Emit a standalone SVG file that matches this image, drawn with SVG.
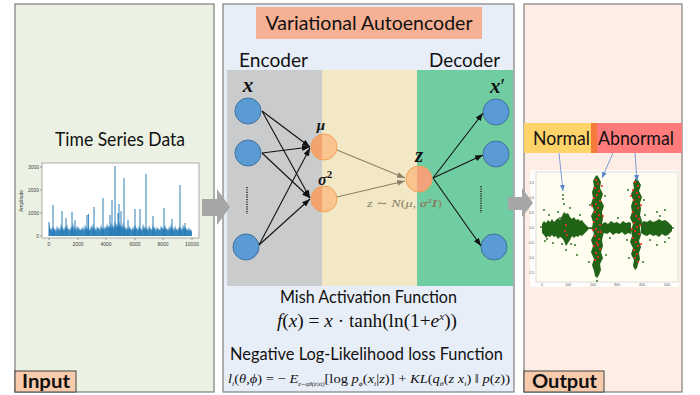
<svg xmlns="http://www.w3.org/2000/svg" width="700" height="395" viewBox="0 0 700 395">
  <style>
    .panel { stroke: #7f7f7f; stroke-width: 1.2; }
    .lbl { font-family: Lato, "Liberation Sans", sans-serif; fill: #111; }
    .tag { font-family: Lato, "Liberation Sans", sans-serif; font-weight: bold; fill: #111; }
    .tagbox { fill: #f8cbad; stroke: #404040; stroke-width: 1; }
    .math { font-family: "Liberation Serif", "DejaVu Serif", serif; fill: #111; }
    .mb { font-family: "Liberation Serif", "DejaVu Serif", serif; font-style: italic; font-weight: bold; fill: #111; }
    .inode { fill: #5b9bd5; stroke: #41719c; stroke-width: 1; }
    .onode { stroke: #f0a35a; stroke-width: 1; }
    .edge { stroke: #111; stroke-width: 1.1; fill: none; marker-end: url(#ah); }
    .edge2 { stroke: #8c8068; stroke-width: 1.1; fill: none; marker-end: url(#ah2); }
    .tick { font-family: "Liberation Sans", sans-serif; font-size: 5px; fill: #444; }
    .tick2 { font-family: "Liberation Sans", sans-serif; font-size: 3.5px; fill: #555; }
    .ptr { stroke: #5b84cc; stroke-width: 0.8; fill: none; marker-end: url(#ah3); }
    .g { fill: #216417; }
    .r { fill: #ff2a1f; }
    .big { fill: #a6a6a6; }
  </style>
  <defs>
    <marker id="ah" markerUnits="userSpaceOnUse" markerWidth="8" markerHeight="6" refX="8" refY="3" orient="auto">
      <path d="M0,0 L8,3 L0,6 z" fill="#111"/>
    </marker>
    <marker id="ah2" markerUnits="userSpaceOnUse" markerWidth="8" markerHeight="6" refX="8" refY="3" orient="auto">
      <path d="M0,0 L8,3 L0,6 z" fill="#8c8068"/>
    </marker>
    <marker id="ah3" markerUnits="userSpaceOnUse" markerWidth="6" markerHeight="5" refX="6" refY="2.5" orient="auto">
      <path d="M0,0 L6,2.5 L0,5 z" fill="#5b84cc"/>
    </marker>
    <!-- two-tone fills for latent nodes straddling the coloured bands -->
    <linearGradient id="encSplit" gradientUnits="userSpaceOnUse" x1="0" y1="0" x2="700" y2="0">
      <stop offset="0" stop-color="#f2a36e"/>
      <stop offset="0.46" stop-color="#f2a36e"/>
      <stop offset="0.46" stop-color="#f9c48e"/>
      <stop offset="1" stop-color="#f9c48e"/>
    </linearGradient>
    <linearGradient id="decSplit" gradientUnits="userSpaceOnUse" x1="0" y1="0" x2="700" y2="0">
      <stop offset="0" stop-color="#f9c48c"/>
      <stop offset="0.5957" stop-color="#f9c48c"/>
      <stop offset="0.5957" stop-color="#f3a37c"/>
      <stop offset="1" stop-color="#f3a37c"/>
    </linearGradient>
  </defs>

  <rect width="700" height="395" fill="#ffffff"/>

  <!-- Input panel -->
  <g id="input-panel">
    <rect class="panel" x="15" y="4" width="199" height="388" fill="#ebf1e3"/>
    <text class="lbl" x="120" y="146" font-size="20" text-anchor="middle" textLength="130" lengthAdjust="spacingAndGlyphs">Time Series Data</text>
    <g id="ts-plot">
      <rect x="42" y="163" width="157" height="75" fill="#ffffff" stroke="#9a9a9a" stroke-width="0.8"/>
      <path d="M40,167 H42 M40,190 H42 M40,213 H42 M40,236 H42 M49,238 V240 M78,238 V240 M106,238 V240 M135,238 V240 M163,238 V240 M192,238 V240" stroke="#666" stroke-width="0.6"/>
      <text class="tick" x="39" y="169" text-anchor="end">3000</text>
      <text class="tick" x="39" y="192" text-anchor="end">2000</text>
      <text class="tick" x="39" y="215" text-anchor="end">1000</text>
      <text class="tick" x="39" y="238" text-anchor="end">0</text>
      <text class="tick" x="49" y="246" text-anchor="middle">0</text>
      <text class="tick" x="78" y="246" text-anchor="middle">2000</text>
      <text class="tick" x="106" y="246" text-anchor="middle">4000</text>
      <text class="tick" x="135" y="246" text-anchor="middle">6000</text>
      <text class="tick" x="163" y="246" text-anchor="middle">8000</text>
      <text class="tick" x="192" y="246" text-anchor="middle">10000</text>
      <text class="tick" x="0" y="0" text-anchor="middle" transform="translate(23,201) rotate(-90)">Amplitude</text>
      <polygon fill="#1f77b4" fill-opacity="0.9" points="49,222 50,230 51,227 52,231 53,226 54,230 55,228 56,232 57,225 58,230 59,227 60,231 61,223 62,229 63,227 64,231 65,226 66,229 67,224 68,230 69,228 70,231 71,226 72,229 73,222 74,230 75,226 76,231 77,225 78,229 79,227 80,231 81,228 82,230 83,226 84,231 85,224 86,229 87,227 88,230 89,228 90,231 91,225 92,229 93,223 94,230 95,227 96,231 97,226 98,229 99,227 100,231 101,224 102,229 103,227 104,230 105,226 106,229 107,223 108,228 109,225 110,229 111,222 112,228 113,224 114,229 115,220 116,227 117,223 118,228 119,221 120,227 121,224 122,229 123,222 124,228 125,226 126,230 127,227 128,231 129,225 130,229 131,228 132,231 133,226 134,230 135,224 136,229 137,227 138,231 139,225 140,229 141,228 142,231 143,223 144,229 145,226 146,230 147,227 148,231 149,225 150,229 151,228 152,231 153,224 154,229 155,227 156,231 157,226 158,230 159,228 160,231 161,225 162,229 163,227 164,230 165,224 166,229 167,228 168,231 169,226 170,230 171,223 172,229 173,227 174,231 175,225 176,230 177,228 178,231 179,226 180,229 181,227 182,231 183,224 184,229 185,226 186,230 187,228 188,231 189,227 190,231 191,229 192,232 192,236 49,236"/>
      <path stroke="#1f77b4" stroke-width="1.1" stroke-opacity="0.85" fill="none" d="M49,236 V222 M53,236 V205 M62,236 V211 M66,236 V218 M72,236 V212 M75,236 V220 M87,236 V215 M88.5,236 V214 M94,236 V207 M103,236 V198 M110,236 V215 M112,236 V200 M115,236 V166 M118,236 V213 M119,236 V204 M121,236 V211 M124,236 V178 M128,236 V220 M135,236 V209 M140,236 V209 M146,236 V174 M153,236 V216 M164,236 V208 M172,236 V219 M180,236 V185 M185,236 V223"/>
    </g>
    <rect class="tagbox" x="15" y="371" width="61" height="21"/>
    <text class="tag" x="46" y="388" font-size="19" text-anchor="middle" textLength="48" lengthAdjust="spacingAndGlyphs">Input</text>
  </g>

  <!-- VAE panel background -->
  <g id="vae-panel">
    <rect class="panel" x="223" y="4" width="291" height="388" fill="#e8eef8"/>
    <rect x="256" y="7" width="226" height="32" fill="#f6b093"/>
    <text class="lbl" x="369" y="30" font-size="20" text-anchor="middle" textLength="207" lengthAdjust="spacingAndGlyphs">Variational Autoencoder</text>
    <text class="lbl" x="273.5" y="67" font-size="20" text-anchor="middle" textLength="69" lengthAdjust="spacingAndGlyphs">Encoder</text>
    <text class="lbl" x="464.5" y="67" font-size="20" text-anchor="middle" textLength="71" lengthAdjust="spacingAndGlyphs">Decoder</text>
    <rect x="227" y="70" width="95" height="216" fill="#c9cbcd"/>
    <rect x="322" y="70" width="95" height="216" fill="#f2e8c6"/>
    <rect x="417" y="70" width="96" height="216" fill="#70cda1"/>
    <text class="lbl" x="368.5" y="303" font-size="17" text-anchor="middle" textLength="177" lengthAdjust="spacingAndGlyphs">Mish Activation Function</text>
    <text class="math" x="277" y="327" font-size="19" textLength="180" lengthAdjust="spacingAndGlyphs"><tspan font-style="italic">f</tspan>(<tspan font-style="italic">x</tspan>) = <tspan font-style="italic">x</tspan> · tanh(ln(1+<tspan font-style="italic">e</tspan><tspan font-style="italic" font-size="11" dy="-7">x</tspan><tspan dy="7">))</tspan></text>
    <text class="lbl" x="366.5" y="360" font-size="17" text-anchor="middle" textLength="273" lengthAdjust="spacingAndGlyphs">Negative Log-Likelihood loss Function</text>
    <text class="math" x="228" y="383" font-size="13" textLength="282" lengthAdjust="spacingAndGlyphs"><tspan font-style="italic">l</tspan><tspan font-size="7" dy="3" font-style="italic">i</tspan><tspan dy="-3">(</tspan><tspan font-style="italic">θ</tspan>,<tspan font-style="italic">ϕ</tspan>)  =  − <tspan font-style="italic">E</tspan><tspan font-size="5.5" dy="3" font-style="italic">z∼qθ(z|xi)</tspan><tspan dy="-3">[log </tspan><tspan font-style="italic">p</tspan><tspan font-size="7" dy="3" font-style="italic">ϕ</tspan><tspan dy="-3">(</tspan><tspan font-style="italic">x</tspan><tspan font-size="7" dy="3" font-style="italic">i</tspan><tspan dy="-3">|</tspan><tspan font-style="italic">z</tspan>)] + <tspan font-style="italic">KL</tspan>(<tspan font-style="italic">q</tspan><tspan font-size="7" dy="3" font-style="italic">θ</tspan><tspan dy="-3">(</tspan><tspan font-style="italic">z</tspan> <tspan font-style="italic">x</tspan><tspan font-size="7" dy="3" font-style="italic">i</tspan><tspan dy="-3">) ‖ </tspan><tspan font-style="italic">p</tspan>(<tspan font-style="italic">z</tspan>))</text>
  </g>

  <!-- Output panel -->
  <g id="output-panel">
    <rect class="panel" x="524" y="4" width="158" height="388" fill="#fdede5"/>
    <rect x="524" y="123" width="67" height="30" fill="#fed46a"/>
    <rect x="591" y="123" width="6" height="30" fill="#f47a3a"/>
    <rect x="597" y="123" width="85" height="30" fill="#ff7b7b"/>
    <text class="lbl" x="561.5" y="145" font-size="19" text-anchor="middle" textLength="57" lengthAdjust="spacingAndGlyphs">Normal</text>
    <text class="lbl" x="636" y="145" font-size="19" text-anchor="middle" textLength="76" lengthAdjust="spacingAndGlyphs">Abnormal</text>
    <g id="scatter-plot">
      <rect x="530" y="170" width="149" height="117" fill="#ffffff" fill-opacity="0.85"/>
      <rect x="536" y="172" width="142" height="110" fill="#fffdf0" stroke="#c8c8c8" stroke-width="0.6"/>
      <text class="tick2" x="534" y="184" text-anchor="end">1.5</text>
      <text class="tick2" x="534" y="199" text-anchor="end">1.0</text>
      <text class="tick2" x="534" y="214" text-anchor="end">0.5</text>
      <text class="tick2" x="534" y="229" text-anchor="end">0.0</text>
      <text class="tick2" x="534" y="244" text-anchor="end">-0.5</text>
      <text class="tick2" x="534" y="259" text-anchor="end">-1.0</text>
      <text class="tick2" x="534" y="274" text-anchor="end">-1.5</text>
      <text class="tick2" x="542" y="286" text-anchor="middle">0</text>
      <text class="tick2" x="568" y="286" text-anchor="middle">100</text>
      <text class="tick2" x="593" y="286" text-anchor="middle">200</text>
      <text class="tick2" x="617" y="286" text-anchor="middle">300</text>
      <text class="tick2" x="642" y="286" text-anchor="middle">400</text>
      <text class="tick2" x="667" y="286" text-anchor="middle">500</text>
      <g id="scatter-dense" class="g">
        <!-- dense normal band -->
        <polygon points="542,224 544,221 546,223 548,220 550,222 552,219 554,222 556,220 558,218 560,220 562,216 564,212 566,214 568,213 570,217 572,219 574,217 576,220 578,219 580,221 582,220 584,223 586,225 588,227 588,230 586,232 584,234 582,236 580,235 578,237 576,236 574,238 572,236 570,240 568,243 566,246 564,241 562,238 560,237 558,239 556,236 554,237 552,235 550,237 548,236 546,238 544,235 542,233"/>
        <rect x="587" y="227.3" width="7" height="1.8"/>
        <polygon points="602,224 605,222 608,224 611,221 614,223 617,222 620,224 623,221 626,223 629,222 631,223 631,234 628,233 625,235 622,232 619,234 616,233 613,235 610,232 607,234 604,233 602,232"/>
        <polygon points="641,223 644,221 647,222 650,220 653,222 656,221 659,219 662,221 665,220 668,222 670,224 672,226 672,231 670,233 668,235 665,236 662,234 659,237 656,235 653,236 650,234 647,236 644,235 641,233"/>
        <!-- anomaly columns -->
        <polygon points="595,177 597,175 599,178 601,182 600,188 603,194 601,200 604,206 602,212 603,218 602,224 604,232 602,240 603,246 601,252 603,258 600,264 601,270 599,275 597,278 595,276 594,271 592,265 594,259 591,252 593,246 591,240 594,234 592,228 593,222 591,216 594,210 591,204 593,198 592,192 594,186 593,181"/>
        <polygon points="636,178 638,180 641,185 639,191 642,197 640,203 641,209 640,215 642,221 640,228 641,235 639,241 641,247 639,253 640,259 638,264 637,268 635,270 633,266 634,260 631,254 633,248 630,242 632,236 631,230 633,224 630,218 632,212 631,206 633,200 631,194 634,188 633,183"/>
      </g>
      <g class="g">
        <circle cx="544" cy="210" r="0.9"/><circle cx="545" cy="241" r="0.9"/><circle cx="541" cy="227" r="0.9"/>
        <circle cx="566" cy="250" r="0.9"/><circle cx="575" cy="245" r="0.9"/><circle cx="577" cy="255" r="0.9"/>
        <circle cx="562" cy="244" r="0.9"/><circle cx="570" cy="208" r="0.9"/><circle cx="558" cy="212" r="0.9"/>
        <circle cx="563" cy="195" r="0.9"/><circle cx="563" cy="199" r="0.9"/><circle cx="564" cy="204" r="0.9"/>
        <circle cx="657" cy="212" r="0.9"/><circle cx="665" cy="210" r="0.9"/><circle cx="657" cy="245" r="0.9"/>
        <circle cx="665" cy="242" r="0.9"/><circle cx="673" cy="228" r="0.9"/><circle cx="645" cy="215" r="0.9"/>
        <circle cx="627" cy="240" r="0.9"/><circle cx="610" cy="238" r="0.9"/><circle cx="597" cy="281" r="0.9"/>
        <circle cx="553" cy="243" r="0.9"/><circle cx="549" cy="215" r="0.9"/><circle cx="580" cy="215" r="0.9"/>
        <circle cx="650" cy="240" r="0.9"/><circle cx="660" cy="216" r="0.9"/><circle cx="618" cy="218" r="0.9"/>
        <circle cx="589" cy="262" r="0.9"/><circle cx="605" cy="196" r="0.9"/><circle cx="590" cy="205" r="0.9"/>
        <circle cx="606" cy="255" r="0.9"/><circle cx="628" cy="190" r="0.9"/><circle cx="644" cy="200" r="0.9"/>
        <circle cx="629" cy="258" r="0.9"/><circle cx="643" cy="262" r="0.9"/><circle cx="560" cy="218" r="0.9"/>
        <circle cx="571" cy="244" r="0.9"/><circle cx="547" cy="239" r="0.9"/><circle cx="669" cy="238" r="0.9"/>
      </g>
      <g class="r">
        <circle cx="596" cy="180" r="1.1"/><circle cx="598" cy="184" r="1.1"/><circle cx="595" cy="188" r="1.1"/>
        <circle cx="599" cy="191" r="1.1"/><circle cx="597" cy="195" r="1.1"/><circle cx="594" cy="198" r="1.1"/>
        <circle cx="600" cy="201" r="1.1"/><circle cx="596" cy="204" r="1.1"/><circle cx="598" cy="208" r="1.1"/>
        <circle cx="595" cy="212" r="1.1"/><circle cx="599" cy="215" r="1.1"/><circle cx="597" cy="219" r="1.1"/>
        <circle cx="594" cy="222" r="1.1"/><circle cx="600" cy="225" r="1.1"/><circle cx="596" cy="229" r="1.1"/>
        <circle cx="598" cy="232" r="1.1"/><circle cx="595" cy="236" r="1.1"/><circle cx="599" cy="239" r="1.1"/>
        <circle cx="597" cy="243" r="1.1"/><circle cx="594" cy="246" r="1.1"/><circle cx="600" cy="249" r="1.1"/>
        <circle cx="596" cy="253" r="1.1"/><circle cx="598" cy="257" r="1.1"/><circle cx="595" cy="260" r="1.1"/>
        <circle cx="601" cy="232" r="1.1"/><circle cx="593" cy="230" r="1.1"/><circle cx="598" cy="245" r="1.1"/>
        <circle cx="602" cy="186" r="1"/><circle cx="592" cy="206" r="1"/><circle cx="603" cy="216" r="1"/>
        <circle cx="566" cy="225" r="1"/><circle cx="565" cy="231" r="1"/><circle cx="567" cy="235" r="1"/>
        <circle cx="635" cy="182" r="1.1"/><circle cx="638" cy="186" r="1.1"/><circle cx="633" cy="190" r="1.1"/>
        <circle cx="637" cy="193" r="1.1"/><circle cx="639" cy="197" r="1.1"/><circle cx="634" cy="200" r="1.1"/>
        <circle cx="636" cy="204" r="1.1"/><circle cx="638" cy="208" r="1.1"/><circle cx="633" cy="212" r="1.1"/>
        <circle cx="636" cy="216" r="1.1"/><circle cx="639" cy="219" r="1.1"/><circle cx="634" cy="223" r="1.1"/>
        <circle cx="637" cy="227" r="1.1"/><circle cx="635" cy="231" r="1.1"/><circle cx="639" cy="234" r="1.1"/>
        <circle cx="633" cy="238" r="1.1"/><circle cx="636" cy="242" r="1.1"/><circle cx="638" cy="246" r="1.1"/>
        <circle cx="634" cy="250" r="1.1"/><circle cx="637" cy="254" r="1.1"/><circle cx="635" cy="258" r="1.1"/>
        <circle cx="638" cy="262" r="1.1"/><circle cx="640" cy="225" r="1.1"/><circle cx="632" cy="229" r="1.1"/>
        <circle cx="641" cy="205" r="1"/><circle cx="631" cy="196" r="1"/><circle cx="641" cy="244" r="1"/>
      </g>
    </g>
    <line class="ptr" x1="559" y1="153" x2="563" y2="191"/>
    <line class="ptr" x1="613" y1="153" x2="602" y2="178"/>
    <line class="ptr" x1="635" y1="153" x2="637" y2="181"/>
    <rect class="tagbox" x="524" y="371" width="80" height="21"/>
    <text class="tag" x="564.5" y="388" font-size="19" text-anchor="middle" textLength="65" lengthAdjust="spacingAndGlyphs">Output</text>
  </g>

  <!-- flow arrows between panels -->
  <polygon class="big" points="202,199 217,199 217,189 230,207 217,225 217,216 202,216"/>
  <polygon class="big" points="508,197 522,197 522,188 533,203 522,217 522,210 508,210"/>

  <!-- connectors -->
  <g id="connectors">
    <line class="edge" x1="262" y1="111" x2="310" y2="147"/>
    <line class="edge" x1="262" y1="111" x2="310" y2="198"/>
    <line class="edge" x1="262" y1="153" x2="310" y2="147"/>
    <line class="edge" x1="262" y1="153" x2="310" y2="198"/>
    <line class="edge" x1="259" y1="245" x2="310" y2="148"/>
    <line class="edge" x1="259" y1="245" x2="310" y2="199"/>
    <line class="edge2" x1="337" y1="150" x2="405" y2="178"/>
    <line class="edge2" x1="337" y1="197" x2="405" y2="181"/>
    <line class="edge" x1="433" y1="178" x2="483" y2="113"/>
    <line class="edge" x1="433" y1="178" x2="483" y2="155"/>
    <line class="edge" x1="433" y1="178" x2="481" y2="246"/>
  </g>

  <!-- encoder inputs -->
  <g id="x1"><circle class="inode" cx="248" cy="111" r="13"/></g>
  <g id="x2"><circle class="inode" cx="248" cy="153" r="13"/></g>
  <g id="xn"><circle class="inode" cx="246" cy="247" r="13"/></g>
  <line x1="247" y1="187" x2="247" y2="214" stroke="#333" stroke-width="1.6" stroke-dasharray="1.2 1.2"/>
  <text class="mb" x="248" y="92" font-size="21" text-anchor="middle">x</text>

  <!-- latent distribution parameters -->
  <g id="mu">
    <circle class="onode" cx="324" cy="147" r="13" fill="url(#encSplit)"/>
    <text class="mb" x="321" y="130" font-size="15" text-anchor="middle">μ</text>
  </g>
  <g id="sigma">
    <circle class="onode" cx="324" cy="199" r="13" fill="url(#encSplit)"/>
    <text class="mb" x="318" y="185" font-size="16">σ<tspan font-size="11" dy="-7" font-style="normal">2</tspan></text>
  </g>

  <!-- sampled latent code -->
  <g id="z">
    <circle class="onode" cx="419" cy="179" r="13" fill="url(#decSplit)"/>
    <text class="mb" x="419" y="162" font-size="21" text-anchor="middle">z</text>
    <text class="math" x="367" y="207" font-size="11" style="fill:#8a7d62" textLength="75" lengthAdjust="spacingAndGlyphs"><tspan font-style="italic">z</tspan> ∼ <tspan font-style="italic">N</tspan>(<tspan font-style="italic">μ</tspan>, <tspan font-weight="bold" font-style="italic">σ</tspan><tspan font-weight="bold" font-size="7" dy="-4">2</tspan><tspan font-weight="bold" font-style="italic" dy="4">I</tspan>)</text>
  </g>

  <!-- decoder outputs -->
  <g id="y1"><circle class="inode" cx="496" cy="112" r="13"/></g>
  <g id="y2"><circle class="inode" cx="496" cy="154" r="13"/></g>
  <g id="yn"><circle class="inode" cx="494" cy="247" r="13"/></g>
  <line x1="481" y1="186" x2="481" y2="213" stroke="#333" stroke-width="1.6" stroke-dasharray="1.2 1.2"/>
  <text class="mb" x="490" y="93" font-size="21">x<tspan font-style="normal" font-weight="normal">′</tspan></text>
</svg>
